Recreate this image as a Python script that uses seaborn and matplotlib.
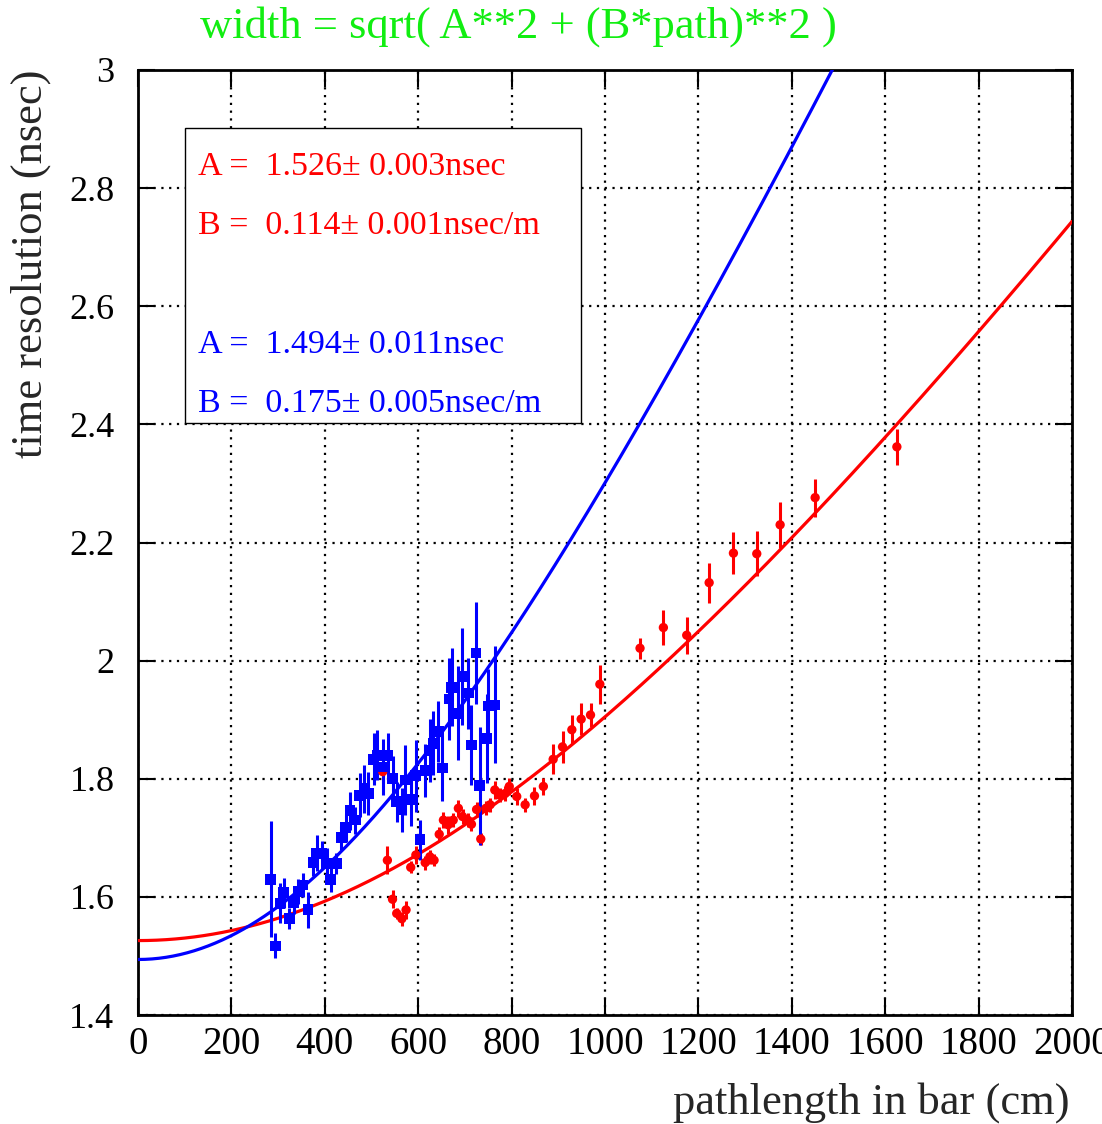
import numpy as np
import pandas as pd
import matplotlib
matplotlib.use("Agg")
import matplotlib.pyplot as plt
import matplotlib.patches as patches
import seaborn as sns

# fit parameters (nsec, nsec/m)
red_A, red_B = 1.526, 0.114
blue_A, blue_B = 1.494, 0.175

# blue squares: path (cm), width (nsec), error
blue_x = [284, 294, 304, 312, 324, 333, 343, 353, 364, 375, 383, 393, 404, 413, 425,
          435, 445, 454, 465, 475, 484, 493, 505, 512, 524, 535, 545, 554, 565, 572,
          585, 595, 604, 615, 625, 632, 643, 652, 666, 672, 686, 694, 707, 714, 724,
          732, 747, 750, 764]
blue_y = [1.630, 1.517, 1.589, 1.607, 1.563, 1.591, 1.609, 1.620, 1.578, 1.658, 1.674,
          1.674, 1.657, 1.629, 1.657, 1.700, 1.717, 1.746, 1.730, 1.772, 1.783, 1.775,
          1.833, 1.840, 1.820, 1.840, 1.801, 1.761, 1.747, 1.798, 1.765, 1.805, 1.697,
          1.814, 1.848, 1.860, 1.880, 1.818, 1.935, 1.955, 1.911, 1.973, 1.945, 1.857,
          2.013, 1.788, 1.868, 1.923, 1.925]
blue_err = [0.098, 0.021, 0.034, 0.025, 0.018, 0.020, 0.021, 0.020, 0.031, 0.023, 0.030,
            0.021, 0.025, 0.020, 0.018, 0.020, 0.024, 0.032, 0.023, 0.037, 0.041, 0.037,
            0.044, 0.042, 0.048, 0.037, 0.037, 0.034, 0.037, 0.059, 0.045, 0.061, 0.034,
            0.045, 0.054, 0.054, 0.052, 0.055, 0.069, 0.066, 0.080, 0.082, 0.060, 0.068,
            0.086, 0.100, 0.076, 0.062, 0.099]

# red circles
red_x = [524, 534, 545, 554, 565, 574, 584, 595, 615, 625, 634, 645, 654, 664, 675,
         686, 695, 706, 714, 725, 734, 745, 754, 764, 775, 786, 795, 811, 829, 849,
         868, 889, 909, 929, 949, 969, 989, 1075, 1125, 1175, 1223, 1275, 1325, 1375,
         1450, 1625]
red_y = [1.812, 1.662, 1.596, 1.572, 1.563, 1.578, 1.650, 1.671, 1.658, 1.668, 1.662,
         1.706, 1.730, 1.722, 1.730, 1.750, 1.736, 1.730, 1.723, 1.748, 1.698, 1.750,
         1.756, 1.781, 1.772, 1.775, 1.787, 1.770, 1.756, 1.771, 1.787, 1.833, 1.854,
         1.883, 1.901, 1.908, 1.960, 2.021, 2.056, 2.043, 2.132, 2.182, 2.181, 2.230,
         2.276, 2.362]
red_err = [0.020, 0.024, 0.015, 0.010, 0.012, 0.015, 0.010, 0.015, 0.012, 0.012, 0.010,
           0.012, 0.014, 0.015, 0.012, 0.014, 0.012, 0.012, 0.012, 0.013, 0.010, 0.012,
           0.012, 0.015, 0.012, 0.012, 0.014, 0.014, 0.012, 0.015, 0.015, 0.025, 0.027,
           0.025, 0.027, 0.021, 0.033, 0.018, 0.030, 0.031, 0.034, 0.035, 0.038, 0.039,
           0.032, 0.031]

x_ticks = [0, 200, 400, 600, 800, 1000, 1200, 1400, 1600, 1800, 2000]
y_ticks = [1.4, 1.6, 1.8, 2.0, 2.2, 2.4, 2.6, 2.8, 3.0]
y_ticklabels = ["1.4", "1.6", "1.8", "2", "2.2", "2.4", "2.6", "2.8", "3"]

sns.set_style("ticks")
plt.rcParams["font.family"] = ["Liberation Serif", "DejaVu Serif"]

fig = plt.figure(figsize=(11.02, 11.24), dpi=100)
ax = fig.add_axes([138 / 1102, 1 - 1015 / 1124, 934 / 1102, 945 / 1124])

path = np.linspace(0, 2000, 400)
fits = pd.concat([
    pd.DataFrame({"path": path, "width": np.sqrt(red_A**2 + (red_B * path / 100) ** 2), "set": "red"}),
    pd.DataFrame({"path": path, "width": np.sqrt(blue_A**2 + (blue_B * path / 100) ** 2), "set": "blue"}),
])
sns.lineplot(data=fits, x="path", y="width", hue="set", palette={"red": "#ff0000", "blue": "#0000ff"},
             linewidth=2.3, legend=False, ax=ax, zorder=3)

ax.errorbar(red_x, red_y, yerr=red_err, fmt="none", ecolor="#ff0000", elinewidth=2.2, capsize=0, zorder=4)
ax.errorbar(blue_x, blue_y, yerr=blue_err, fmt="none", ecolor="#0000ff", elinewidth=2.2, capsize=0, zorder=4)
sns.scatterplot(x=red_x, y=red_y, color="#ff0000", marker="o", s=45, edgecolor="none", ax=ax, zorder=5)
sns.scatterplot(x=blue_x, y=blue_y, color="#0000ff", marker="s", s=60, edgecolor="none", ax=ax, zorder=5)

ax.set_xlim(0, 2000)
ax.set_ylim(1.4, 3.0)
ax.set_xticks(x_ticks)
ax.set_yticks(y_ticks)
ax.set_yticklabels(y_ticklabels)
ax.set_xlabel("")
ax.set_ylabel("")
ax.grid(True, color="black", linestyle=(0, (1, 2.5)), linewidth=1.6)
ax.tick_params(axis="both", direction="in", length=12, width=1.5, top=True, right=True,
               colors="black")
ax.tick_params(axis="x", labelsize=28, pad=8)
ax.tick_params(axis="y", labelsize=26, pad=17)
for s in ax.spines.values():
    s.set_linewidth(2)
    s.set_color("black")

# parameter box
box = patches.Rectangle((185 / 1102, 1 - 423 / 1124), 396 / 1102, 295 / 1124, transform=fig.transFigure,
                        facecolor="white", edgecolor="black", linewidth=1, zorder=10)
ax.add_patch(box)
box.set_clip_on(False)
lines = [("A =  1.526\u00b1 0.003nsec", "#ff0000", 167),
         ("B =  0.114\u00b1 0.001nsec/m", "#ff0000", 226),
         ("A =  1.494\u00b1 0.011nsec", "#0000ff", 345),
         ("B =  0.175\u00b1 0.005nsec/m", "#0000ff", 404)]
for txt, col, ypix in lines:
    fig.text(198 / 1102, 1 - ypix / 1124, txt, color=col, fontsize=24.5, va="center", ha="left", zorder=11)

fig.text(200 / 1102, 1 - 27 / 1124, "width = sqrt( A**2 + (B*path)**2 )", color="#11ee11",
         fontsize=32, va="center", ha="left")
fig.text(31 / 1102, 1 - 70 / 1124, "time resolution (nsec)", rotation=90, fontsize=32,
         va="top", ha="center")
fig.text(1070 / 1102, 1 - 1103 / 1124, "pathlength in bar (cm)", fontsize=32, va="center", ha="right")

fig.savefig("out.png", dpi=100)
